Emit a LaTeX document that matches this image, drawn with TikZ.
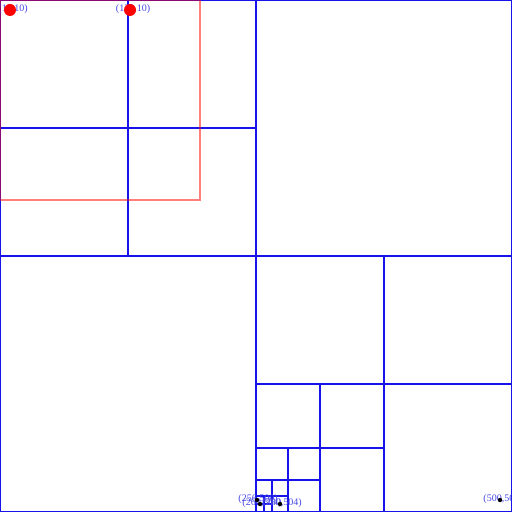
\documentclass[tikz,border=0pt]{standalone}
\usepackage{fontspec}
\setmainfont{Liberation Serif}
\begin{document}
\begin{tikzpicture}[x=0.5pt,y=-0.5pt,
  grid/.style={draw={rgb,255:red,20;green,20;blue,235},line width=0.8pt},
  query/.style={draw=red,draw opacity=0.5,line width=0.8pt},
  hit/.style={circle,fill=red,inner sep=0pt,minimum size=6pt},
  pt/.style={circle,fill=black,inner sep=0pt,minimum size=2.2pt},
  lbl/.style={anchor=base,inner sep=0pt,text={rgb,255:red,70;green,70;blue,230},font=\fontsize{5}{6}\selectfont}]
\useasboundingbox (0,0) rectangle (512,512);
\begin{scope}
\clip (0,0) rectangle (512,512);
% root
\draw[grid] (0,0) rectangle (512,512);
\draw[grid] (256,0) -- (256,512) (0,256) -- (512,256);
% top-left quadrant
\draw[grid] (128,0) -- (128,256) (0,128) -- (256,128);
% bottom-right quadrant
\draw[grid] (384,256) -- (384,512) (256,384) -- (512,384);
\draw[grid] (320,384) -- (320,512) (256,448) -- (384,448);
\draw[grid] (288,448) -- (288,512) (256,480) -- (320,480);
\draw[grid] (272,480) -- (272,512) (256,496) -- (288,496);
\draw[grid] (264,496) -- (264,512) (256,504) -- (272,504);
% query rectangle
\draw[query] (0,0) rectangle (200,200);
\end{scope}
% points
\node[lbl] (l1) at (13,11.5) {(10,10)};
\node[lbl] (l2) at (133,11.5) {(130,10)};
\node[lbl] (l3) at (258,501.5) {(256,500)};
\node[lbl] (l4) at (262,505.5) {(260,504)};
\node[lbl] (l5) at (282,505.5) {(280,504)};
\node[lbl] (l6) at (503,501.5) {(500,500)};
\node[hit] (p1) at (10,10) {};
\node[hit] (p2) at (130,10) {};
\node[pt] (p3) at (257,500) {};
\node[pt] (p4) at (260,504) {};
\node[pt] (p5) at (280,504) {};
\node[pt] (p6) at (500,500) {};
\end{tikzpicture}
\end{document}
